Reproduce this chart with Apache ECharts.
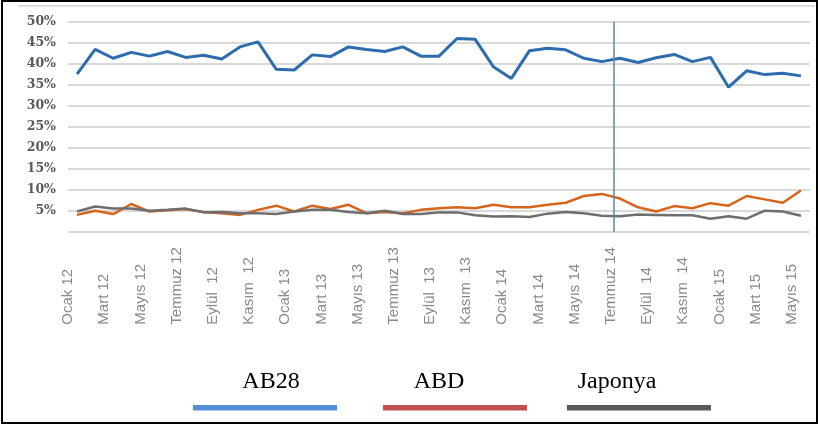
<!DOCTYPE html>
<html>
<head>
<meta charset="utf-8">
<script src="https://cdn.jsdelivr.net/npm/echarts@6/dist/echarts.min.js"></script>
<style>
html,body{margin:0;padding:0;background:#fff;}
#c{width:821px;height:426px;}
</style>
</head>
<body>
<div id="c"></div>
<script>
const months = ["Ocak 12","Şubat 12","Mart 12","Nisan 12","Mayıs 12","Haziran 12","Temmuz 12","Ağustos 12","Eylül 12","Ekim 12","Kasım 12","Aralık 12",
"Ocak 13","Şubat 13","Mart 13","Nisan 13","Mayıs 13","Haziran 13","Temmuz 13","Ağustos 13","Eylül 13","Ekim 13","Kasım 13","Aralık 13",
"Ocak 14","Şubat 14","Mart 14","Nisan 14","Mayıs 14","Haziran 14","Temmuz 14","Ağustos 14","Eylül 14","Ekim 14","Kasım 14","Aralık 14",
"Ocak 15","Şubat 15","Mart 15","Nisan 15","Mayıs 15"];
const tickLabels = ["Ocak 12","Mart 12","Mayıs 12","Temmuz 12","Eylül  12","Kasım  12","Ocak 13","Mart 13","Mayıs 13","Temmuz 13","Eylül  13","Kasım  13","Ocak 14","Mart 14","Mayıs 14","Temmuz 14","Eylül  14","Kasım  14","Ocak 15","Mart 15","Mayıs 15"];
const ab28 = [37.5,43.4,41.3,42.7,41.8,42.9,41.5,42.0,41.1,44.0,45.2,38.7,38.5,42.1,41.7,44.0,43.4,42.9,44.0,41.8,41.8,46.0,45.8,39.3,36.5,43.1,43.7,43.3,41.3,40.5,41.3,40.3,41.4,42.2,40.5,41.5,34.4,38.3,37.4,37.7,37.1];
const abd = [4.0,5.0,4.2,6.6,4.8,5.1,5.4,4.7,4.4,4.0,5.2,6.2,4.8,6.2,5.4,6.4,4.4,4.7,4.4,5.2,5.6,5.8,5.6,6.4,5.8,5.8,6.4,6.9,8.5,9.0,7.9,5.8,4.8,6.1,5.6,6.8,6.2,8.5,7.7,6.9,9.8];
const japonya = [4.8,6.0,5.5,5.5,5.0,5.2,5.5,4.6,4.7,4.4,4.4,4.2,4.8,5.2,5.2,4.7,4.4,5.0,4.2,4.2,4.6,4.6,3.9,3.6,3.7,3.5,4.3,4.7,4.4,3.8,3.7,4.1,4.0,3.9,3.9,3.1,3.7,3.1,5.0,4.8,3.8];
const seriesNames = ["AB28","ABD","Japonya"];
const markPos = 30.17; // band units from left edge of the category axis

const chart = echarts.init(document.getElementById('c'), null, {renderer:'canvas'});
chart.setOption({
  animation:false,
  backgroundColor:'#fff',
  grid:{left:68,right:11,top:21.7,bottom:194.3,containLabel:false},
  xAxis:[
    {type:'category',data:months,boundaryGap:true,
     axisLine:{show:false},axisTick:{show:false},axisLabel:{show:false},splitLine:{show:false}},
    {type:'value',min:0,max:41,interval:2,position:'bottom',
     axisLine:{show:false},axisTick:{show:false},splitLine:{show:false},
     axisLabel:{show:true,rotate:90,align:'left',verticalAlign:'middle',margin:93,
       color:'#8a8a8a',fontFamily:'Liberation Sans, Arial, sans-serif',fontSize:15,
       showMinLabel:true,showMaxLabel:true,hideOverlap:false,
       formatter:function(v){const i=Math.round(v); if(i%2!==0) return ''; return tickLabels[i/2]||'';}}}
  ],
  yAxis:{type:'value',min:0,max:50,interval:5,
    axisLine:{show:false},axisTick:{show:false},
    splitLine:{show:true,lineStyle:{color:'#cdcdcd',width:1.6}},
    axisLabel:{margin:12,color:'#5a5a5a',fontFamily:'DejaVu Serif, serif',fontWeight:'bold',fontSize:12.5,
      formatter:function(v){return v===0?'':v+'%';}}},
  series:[
    {name:seriesNames[0],type:'line',data:ab28,symbol:'none',lineStyle:{color:'#2d6cad',width:3},itemStyle:{color:'#2d6cad'}},
    {name:seriesNames[1],type:'line',data:abd,symbol:'none',lineStyle:{color:'#d6641d',width:2.5},itemStyle:{color:'#d6641d'}},
    {name:seriesNames[2],type:'line',data:japonya,symbol:'none',lineStyle:{color:'#6e6e6e',width:2.5},itemStyle:{color:'#6e6e6e'}},
    {name:'marker',type:'line',xAxisIndex:1,data:[],symbol:'none',
      markLine:{silent:true,symbol:['none','none'],label:{show:false},
        lineStyle:{color:'#6283aa',width:1.5,type:'solid'},
        data:[{xAxis:markPos}]}}
  ],
  graphic:[
    {type:'rect',shape:{x:2,y:1,width:815,height:422},style:{fill:'none',stroke:'#000',lineWidth:2},silent:true},
    {type:'line',shape:{x1:18,y1:6,x2:815,y2:6},style:{stroke:'#d5d5d5',lineWidth:1.5},silent:true},
    {type:'text',x:271,y:382,style:{text:seriesNames[0],fill:'#000',font:'24px "Liberation Serif", "Times New Roman", serif',align:'center',verticalAlign:'middle'}},
    {type:'text',x:439,y:382,style:{text:seriesNames[1],fill:'#000',font:'24px "Liberation Serif", "Times New Roman", serif',align:'center',verticalAlign:'middle'}},
    {type:'text',x:617,y:382,style:{text:seriesNames[2],fill:'#000',font:'24px "Liberation Serif", "Times New Roman", serif',align:'center',verticalAlign:'middle'}},
    {type:'rect',shape:{x:193,y:405,width:144,height:5.5},style:{fill:'#558ed5'}},
    {type:'rect',shape:{x:383,y:405,width:144,height:5.5},style:{fill:'#c0504d'}},
    {type:'rect',shape:{x:567,y:405,width:144,height:5.5},style:{fill:'#595959'}}
  ]
});
</script>
</body>
</html>
